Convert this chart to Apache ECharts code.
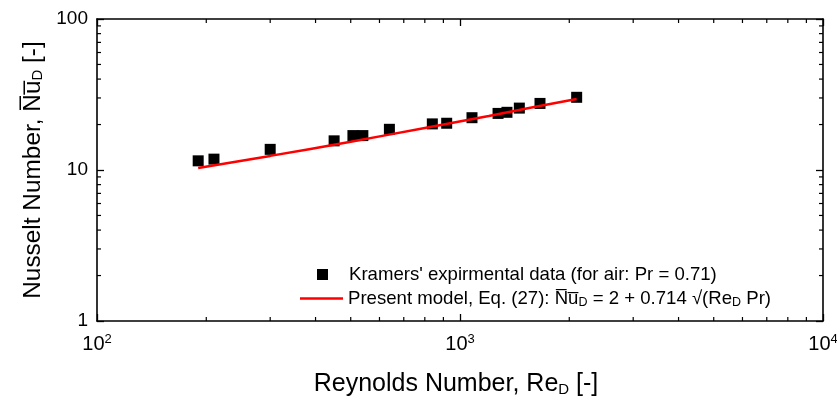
<!DOCTYPE html>
<html><head><meta charset="utf-8">
<script src="https://cdn.jsdelivr.net/npm/echarts@6/dist/echarts.min.js"></script>
<style>html,body{margin:0;padding:0;background:#fff}#c{width:837px;height:402px}</style>
</head><body><div id="c"></div>
<script>
var kramersRe = [190, 210, 300, 450, 507, 540, 639, 839, 919, 1079, 1273, 1347, 1457, 1661, 2096];
var kramersNu = [11.5, 11.8, 13.7, 15.6, 16.9, 16.9, 18.6, 20.2, 20.4, 22.2, 23.7, 24.1, 25.7, 27.6, 30.3];
// Present model curve
var modelRe = [190, 300, 500, 800, 1200, 1600, 2096];
var modelNu = [10.3, 12.4, 15.4, 19.0, 22.8, 26.1, 29.5];
// Axis ticks
var xTickExp = [2, 3, 4];
var yTickLabels = ['1', '10', '100'];
var xMinor = [200,300,400,500,600,700,800,900,2000,3000,4000,5000,6000,7000,8000,9000];
var yMinor = [2,3,4,5,6,7,8,9,20,30,40,50,60,70,80,90];

var FONT = "'Liberation Sans', Arial, sans-serif";
var chart = echarts.init(document.getElementById('c'), null, {renderer: 'canvas'});

function zip(a, b) { return a.map(function (v, i) { return [v, b[i]]; }); }

var tickStyle = {show: true, inside: true, length: 7, lineStyle: {color: '#000', width: 1.3}};
var lineStyle = {show: true, lineStyle: {color: '#000', width: 1.6}};

function minorTicks(vals, isX) {
  return {
    type: 'custom', silent: true, clip: false, xAxisIndex: 0, yAxisIndex: 0,
    data: vals.map(function (v) { return [v]; }),
    renderItem: function (params, api) {
      var v = api.value(0);
      var a, b, L = 4;
      if (isX) { a = api.coord([v, 1]); b = api.coord([v, 100]);
        return {type: 'group', children: [
          {type: 'line', shape: {x1: a[0], y1: a[1], x2: a[0], y2: a[1] - L}, style: {stroke: '#000', lineWidth: 1.2}},
          {type: 'line', shape: {x1: b[0], y1: b[1], x2: b[0], y2: b[1] + L}, style: {stroke: '#000', lineWidth: 1.2}}]};
      } else { a = api.coord([100, v]); b = api.coord([10000, v]);
        return {type: 'group', children: [
          {type: 'line', shape: {x1: a[0], y1: a[1], x2: a[0] + L, y2: a[1]}, style: {stroke: '#000', lineWidth: 1.2}},
          {type: 'line', shape: {x1: b[0], y1: b[1], x2: b[0] - L, y2: b[1]}, style: {stroke: '#000', lineWidth: 1.2}}]};
      }
    }
  };
}

var OL = 'N\u0305u\u0305';
var NAME_DATA = "Kramers' expirmental data (for air: Pr = 0.71)";
var NAME_MODEL = 'model';
var legendRich = {t: {fontSize: 18.6, fontFamily: FONT, lineHeight: 20, color: '#000'},
  tp: {fontSize: 18.6, fontFamily: FONT, lineHeight: 20, color: '#000', padding: [0, 0, 0, 16]},
  sub: {fontSize: 12.5, fontFamily: FONT, lineHeight: 20, padding: [8, 0, 0, 0], color: '#000'}};

chart.setOption({
  animation: false,
  textStyle: {fontFamily: FONT},
  grid: {left: 97, right: 14, top: 19, bottom: 81, containLabel: false, outerBoundsMode: 'none'},
  legend: [{
    orient: 'vertical', left: 317, top: 265, padding: 0, itemWidth: 11, itemHeight: 11, icon: 'rect',
    data: [NAME_DATA],
    formatter: function (name) { return '{tp|' + name + '}'; },
    textStyle: {fontFamily: FONT, fontSize: 18.6, color: '#000', rich: legendRich}
  }, {
    orient: 'vertical', left: 300, top: 288, padding: 0, itemWidth: 43, itemHeight: 2.5, icon: 'rect',
    data: [NAME_MODEL],
    formatter: function () { return '{t|Present model, Eq. (27): ' + OL + '}{sub|D}{t| = 2 + 0.714 \u221A(Re}{sub|D}{t| Pr)}'; },
    textStyle: {fontFamily: FONT, fontSize: 18.6, color: '#000', rich: legendRich}
  }],
  xAxis: [{
    type: 'log', logBase: 10, min: 100, max: 10000, position: 'bottom',
    axisLine: lineStyle, axisTick: tickStyle, splitLine: {show: false},
    axisLabel: {margin: 12, color: '#000', fontFamily: FONT,
      formatter: function (v) { var e = Math.round(Math.log10(v)); return xTickExp.indexOf(e) >= 0 ? '{b|10}{s|' + e + '}' : ''; },
      rich: {b: {fontSize: 20, fontFamily: FONT, color: '#000'}, s: {fontSize: 13, fontFamily: FONT, color: '#000', padding: [0, 0, 10, 0]}}},
    name: '{t|Reynolds Number, Re}{sub|D}{t| [-]}', nameLocation: 'middle', nameGap: 51,
    nameTextStyle: {padding: [0, 8, 0, 0], rich: {t: {fontSize: 25, fontFamily: FONT, color: '#000'}, sub: {fontSize: 15, fontFamily: FONT, color: '#000', padding: [10, 0, 0, 0]}}}
  }, {
    type: 'log', logBase: 10, min: 100, max: 10000, position: 'top',
    axisLine: lineStyle, axisTick: tickStyle, axisLabel: {show: false}, splitLine: {show: false}
  }],
  yAxis: [{
    type: 'log', logBase: 10, min: 1, max: 100, position: 'left',
    axisLine: lineStyle, axisTick: tickStyle, splitLine: {show: false},
    axisLabel: {margin: 9, color: '#000', fontSize: 19, fontFamily: FONT,
      formatter: function (v) { var e = Math.round(Math.log10(v)); return yTickLabels[e] || ''; }},
    name: '{t|Nusselt Number, ' + OL + '}{sub|D}{t| [-]}', nameLocation: 'middle', nameGap: 50, nameRotate: 90,
    nameTextStyle: {rich: {t: {fontSize: 24.4, fontFamily: FONT, color: '#000'}, sub: {fontSize: 15, fontFamily: FONT, color: '#000', padding: [10, 0, 0, 0]}}}
  }, {
    type: 'log', logBase: 10, min: 1, max: 100, position: 'right',
    axisLine: lineStyle, axisTick: tickStyle, axisLabel: {show: false}, splitLine: {show: false}
  }],
  series: [
    {name: NAME_DATA, type: 'scatter', symbol: 'rect', symbolSize: 11,
     itemStyle: {color: '#000', opacity: 1}, data: zip(kramersRe, kramersNu), z: 3},
    {name: NAME_MODEL, type: 'line', showSymbol: false, symbol: 'none', smooth: true,
     lineStyle: {color: '#ff0000', width: 2.5}, itemStyle: {color: '#ff0000'}, data: zip(modelRe, modelNu), z: 4},
    minorTicks(xMinor, true),
    minorTicks(yMinor, false)
  ]
});
</script></body></html>
